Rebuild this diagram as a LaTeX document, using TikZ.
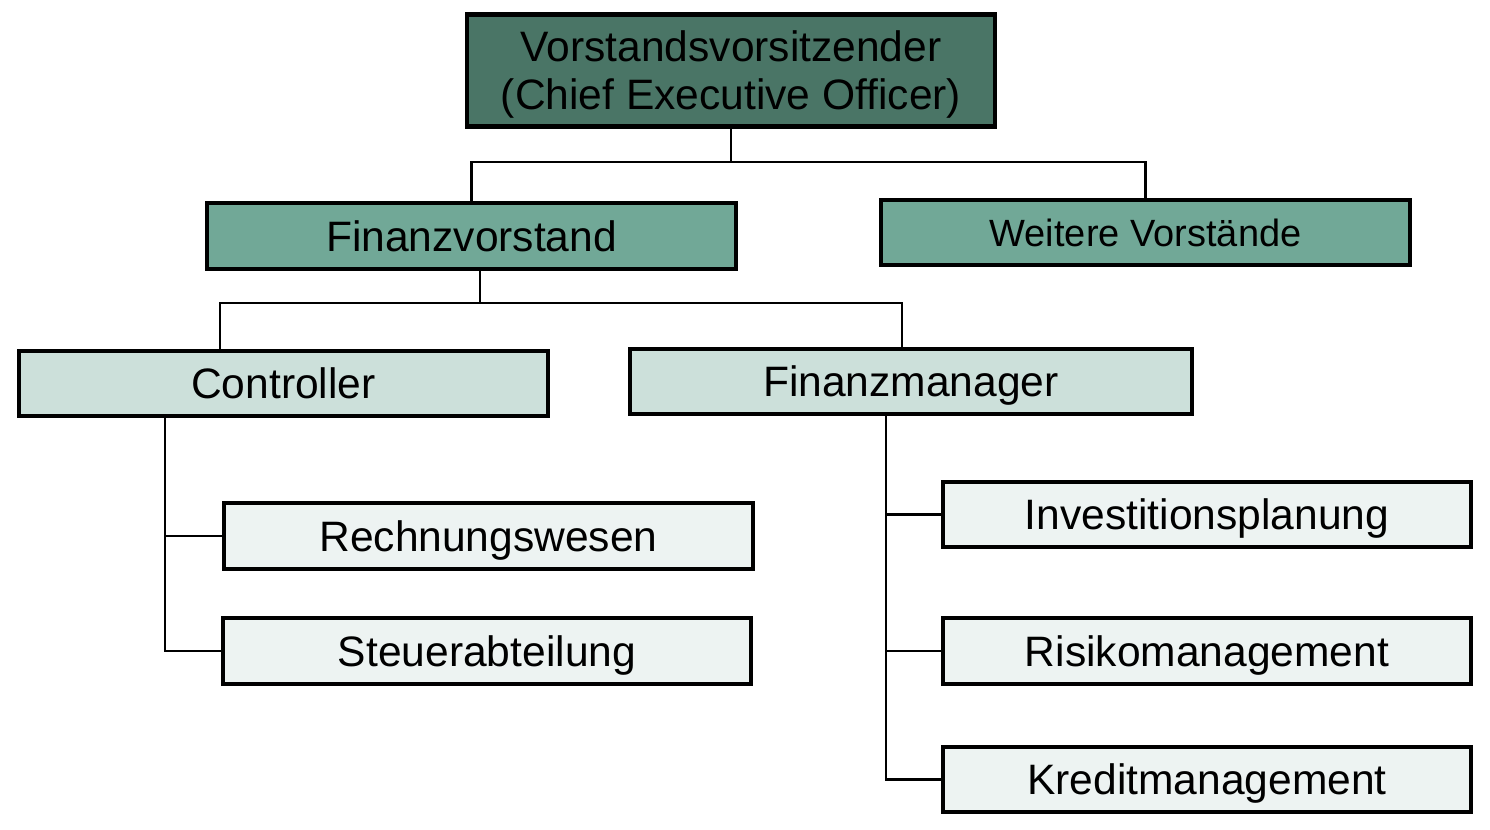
\documentclass[tikz,border=0pt]{standalone}
\usepackage{fontspec}
\setmainfont{Liberation Sans}
\definecolor{ceoC}{HTML}{4A7566}
\definecolor{vorC}{HTML}{71A897}
\definecolor{midC}{HTML}{CCE0DA}
\definecolor{leafC}{HTML}{EDF3F2}
\begin{document}
\begin{tikzpicture}[x=0.01cm,y=-0.01cm,
  box/.style={draw=black, line width=0.045cm, inner sep=0pt, align=center,
    text height=8.66pt, text depth=0pt,
    font=\fontsize{12.1}{13.66}\selectfont, text=black},
  conn/.style={draw=black, line width=0.022cm}]
\useasboundingbox (0,0) rectangle (1490,829);
\node[box, fill=ceoC, minimum width=5.28cm, minimum height=1.12cm, text height=22.32pt] (ceo) at (731,70.5) {Vorstandsvorsitzender\\(Chief Executive Officer)};
\node[box, fill=vorC, minimum width=5.29cm, minimum height=0.66cm] (fv) at (471.5,236) {Finanzvorstand};
\node[box, fill=vorC, minimum width=5.29cm, minimum height=0.65cm, text height=7.73pt, font=\fontsize{10.8}{13}\selectfont] (wv) at (1145.5,232.5) {Weitere Vorstände};
\node[box, fill=midC, minimum width=5.29cm, minimum height=0.65cm] (ctl) at (283.5,383.5) {Controller};
\node[box, fill=midC, minimum width=5.62cm, minimum height=0.65cm] (fm) at (911,381.5) {Finanzmanager};
\node[box, fill=leafC, minimum width=5.29cm, minimum height=0.66cm] (rw) at (488.5,536) {Rechnungswesen};
\node[box, fill=leafC, minimum width=5.28cm, minimum height=0.66cm] (st) at (487,651) {Steuerabteilung};
\node[box, fill=leafC, minimum width=5.28cm, minimum height=0.65cm] (inv) at (1207,514.5) {Investitionsplanung};
\node[box, fill=leafC, minimum width=5.28cm, minimum height=0.66cm] (risk) at (1207,651) {Risikomanagement};
\node[box, fill=leafC, minimum width=5.28cm, minimum height=0.65cm] (kred) at (1207,779.5) {Kreditmanagement};
% connectors level 1
\coordinate (b1) at (731,162);
\draw[conn] (ceo.south) -- (b1);
\draw[conn] (fv.north) |- (b1) -| (wv.north);
% level 2
\coordinate (b2) at (480,303);
\coordinate (xc) at (220,0);
\coordinate (xf) at (902,0);
\draw[conn] (fv.south -| b2) -- (b2);
\draw[conn] (ctl.north -| xc) |- (b2) -| (fm.north -| xf);
% controller branch
\coordinate (v1) at (165,0);
\draw[conn] (ctl.south -| v1) |- (rw.west);
\draw[conn] (ctl.south -| v1) |- (st.west);
% finanzmanager branch
\coordinate (v2) at (886,0);
\draw[conn] (fm.south -| v2) |- (inv.west);
\draw[conn] (fm.south -| v2) |- (risk.west);
\draw[conn] (fm.south -| v2) |- (kred.west);
\end{tikzpicture}
\end{document}
